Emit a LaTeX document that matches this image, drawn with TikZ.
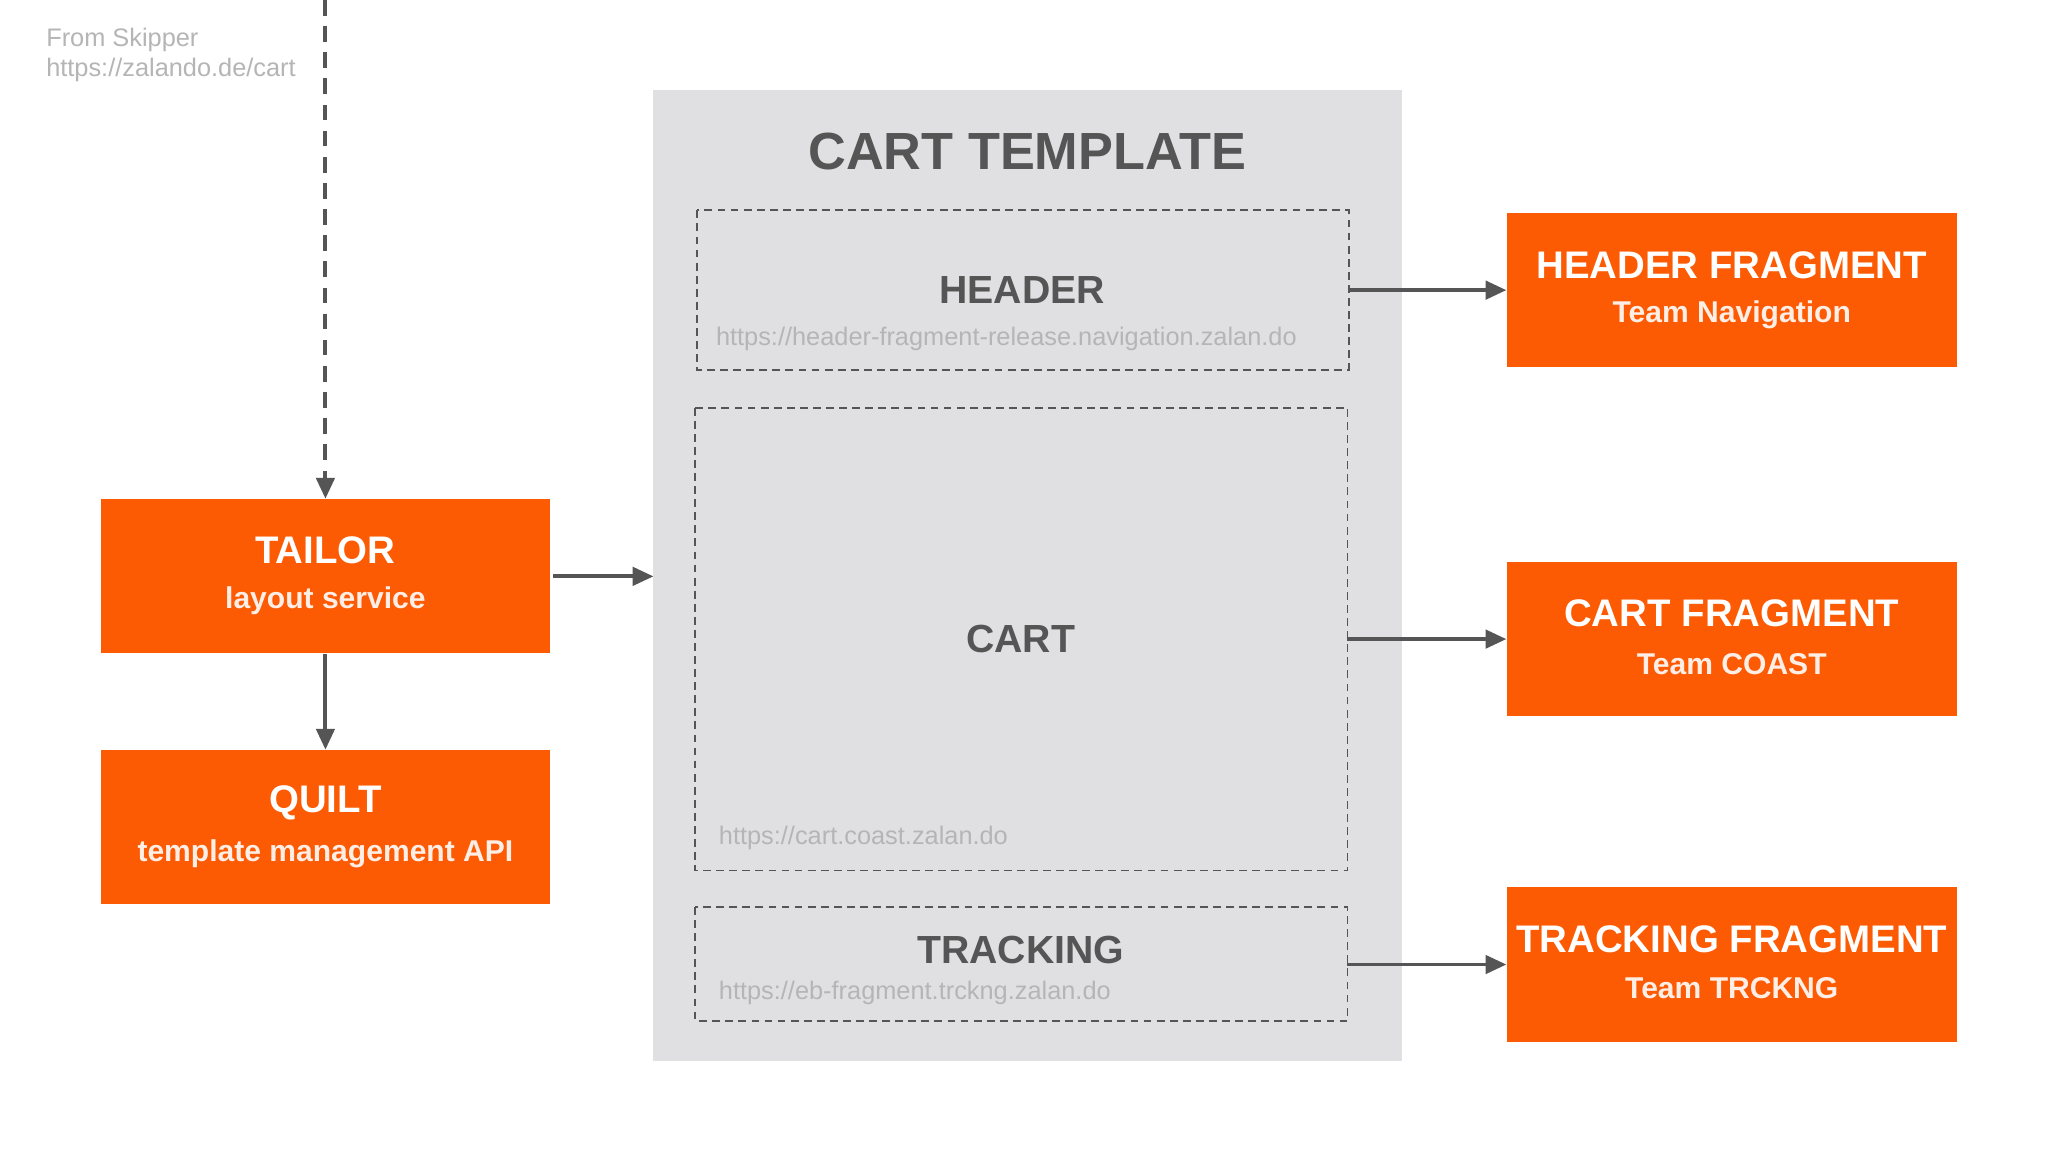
\documentclass[tikz,border=0pt]{standalone}
\usepackage{fontspec}
\setmainfont{Liberation Sans}
\usetikzlibrary{arrows.meta}
\definecolor{org}{HTML}{FC5A03}
\definecolor{tmpl}{HTML}{E0E0E2}
\definecolor{dk}{HTML}{555555}
\definecolor{lt}{HTML}{B5B5B5}
\begin{document}
\begin{tikzpicture}[x=0.5pt,y=-0.5pt,
  obox/.style={fill=org,draw=none,minimum width=172pt,minimum height=59pt,inner sep=0pt},
  dbox/.style={draw=dk,dashed,line width=0.7pt,dash pattern=on 3pt off 2pt},
  arr/.style={-{Triangle[length=8pt,width=7pt]},draw=dk,line width=1.5pt},
  ttl/.style={font=\bfseries\fontsize{14.7}{17}\selectfont,text=white},
  sub/.style={font=\bfseries\fontsize{11.5}{13}\selectfont,text=white!90!org},
  sec/.style={font=\bfseries\fontsize{15}{17}\selectfont,text=dk},
  url/.style={font=\fontsize{9.7}{12}\selectfont,text=lt}]
\useasboundingbox (0,0) rectangle (1567,881);
\fill[white] (0,0) rectangle (1567,881);
\fill[tmpl] (500,69) rectangle (1073,812);
\node[font=\bfseries\fontsize{20}{24}\selectfont,text=dk] (tt) at (786,116) {CART TEMPLATE};
\draw[dbox] (533,161) rectangle (1032,283);
\coordinate (hr) at (1032,222);
\node[sec] (h) at (782,222) {HEADER};
\node[url] (hu) at (770,259) {https://header-fragment-release.navigation.zalan.do};
\draw[dbox] (532,312) rectangle (1031,666);
\coordinate (cr) at (1031,489);
\node[sec] (c) at (781,489) {CART};
\node[url,anchor=west] (cu) at (543,641) {https://cart.coast.zalan.do};
\draw[dbox] (532,694) rectangle (1031,781);
\coordinate (tr) at (1031,738);
\node[sec] (t) at (781,727) {TRACKING};
\node[url,anchor=west] (tu) at (543,760) {https://eb-fragment.trckng.zalan.do};
\coordinate (tl) at (500,441);

\node[obox] (tailor) at (249,441) {};
\node[ttl] at (249,421) {TAILOR};
\node[sub] at (249,460) {layout service};
\node[obox] (quilt) at (249,633) {};
\node[ttl] at (249,614) {QUILT};
\node[sub] at (249,653) {template management API};
\node[obox] (hf) at (1325,222) {};
\node[ttl] at (1325,203) {HEADER FRAGMENT};
\node[sub] at (1325,241) {Team Navigation};
\node[obox] (cf) at (1325,489) {};
\node[ttl] at (1325,469) {CART FRAGMENT};
\node[sub] at (1325,508) {Team COAST};
\node[obox] (tf) at (1325,738) {};
\node[ttl] at (1325,719) {TRACKING FRAGMENT};
\node[sub] at (1325,756) {Team TRCKNG};

\node[anchor=north west,align=left,text=lt,font=\fontsize{9.7}{11.5}\selectfont,inner sep=0pt] (sk) at (35,21) {From Skipper\\https://zalando.de/cart};
\coordinate (top) at (249,0);
\draw[arr,dash pattern=on 6pt off 4pt] (top) -- (tailor.north);
\draw[arr] ([xshift=1pt]tailor.east) -- (tl);
\draw[arr] (tailor.south) -- (quilt.north);
\draw[arr] (hr) -- (hf.west);
\draw[arr] (cr) -- (cf.west);
\draw[arr] (tr) -- (tf.west);
\end{tikzpicture}
\end{document}
